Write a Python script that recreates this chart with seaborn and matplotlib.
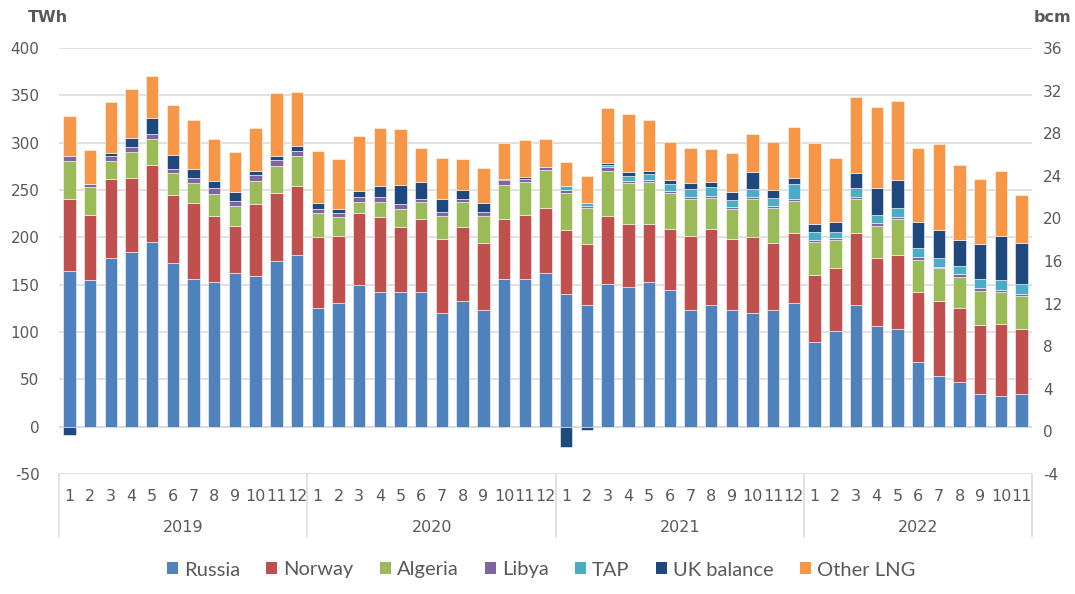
import numpy as np
import pandas as pd
import seaborn as sns
import matplotlib
matplotlib.use("Agg")
import matplotlib.pyplot as plt
from matplotlib.patches import Patch
from matplotlib.transforms import blended_transform_factory

# Monthly supply by source, TWh (Jan 2019 - Nov 2022)
years = ["2019", "2020", "2021", "2022"]
months_per_year = [12, 12, 12, 11]

russia = [164, 155, 178.5, 184.5, 195.5, 172.5, 156.5, 153, 162, 159, 175, 181.5,
          125.5, 130.5, 149.5, 142.5, 142.5, 142.5, 120.5, 132.5, 123, 155.5, 156.5, 162,
          140.5, 128.5, 150.5, 147.5, 152.5, 144.5, 123, 128.5, 123, 120.5, 123, 131,
          89, 101, 129, 106, 103.5, 68.5, 53, 47, 35, 32.5, 34]
norway = [76, 69, 83, 78.5, 80.5, 72, 79.5, 70, 50, 76, 72, 72.5,
          74.5, 71, 76, 78.5, 68.5, 77, 77.5, 78.5, 71, 64, 67.5, 69.5,
          67.5, 64, 72, 66.5, 61.5, 64.5, 78.5, 80.5, 75.5, 79.5, 71, 73.5,
          71, 66.5, 75.5, 72, 78, 73.5, 80, 78, 72.5, 76, 69.5]
algeria = [41, 29, 19, 27.5, 28, 23, 21.5, 23, 21.5, 25, 28.5, 32,
           26, 20.5, 12, 16.5, 19, 18, 25, 26.5, 29, 36, 34, 40,
           38.5, 38, 48, 43, 44.5, 37.5, 38.5, 32.5, 31.5, 40.5, 37, 33.5,
           35, 30, 36, 34, 37.5, 34.5, 34.5, 33.5, 36, 33.5, 35]
libya = [5, 3.5, 5, 4.5, 5.5, 5, 5, 6, 4.5, 5.5, 6, 5,
         4, 3.5, 5, 5, 5, 3.5, 3.5, 3.5, 3.5, 5, 4, 2.5,
         4, 2.5, 3.5, 2, 2, 2, 3, 2.5, 2.5, 2.5, 2.5, 2,
         2.5, 2, 2.5, 3.5, 2.5, 2.5, 1.5, 2.5, 2.5, 2.5, 2]
tap = [0] * 24 + [3.5, 3.5, 2, 5.5, 6.5, 7.5, 8, 9, 7, 8, 8.5, 16.5,
                  8.5, 6.5, 9, 8.5, 10, 10, 9.5, 8.5, 9.5, 10, 10]
uk_balance = [-9, 0, 3.5, 10, 17, 14, 10, 7.5, 10, 5, 4, 5,
              6, 4.5, 6, 11.5, 20.5, 17, 14.5, 8.5, 10, 1.5, 2, 0,
              -22, -3.5, 2, 5, 3.5, 5, 6, 5, 8.5, 17.5, 7.5, 6,
              8.5, 10, 15.5, 28, 29, 27.5, 29, 27.5, 37.5, 47, 43.5]
other_lng = [42, 36, 54, 52, 44, 53, 51.5, 44, 42, 45, 66.5, 57.5,
             55.5, 53, 59, 61.5, 58.5, 36, 43, 33.5, 37, 38, 38.5, 30,
             25.5, 28, 58.5, 61, 53, 39.5, 37.5, 35, 41, 41, 51.5, 54,
             85.5, 68, 81, 85.5, 83, 78, 91.5, 79.5, 68.5, 68.5, 50.5]

series_names = ["Russia", "Norway", "Algeria", "Libya", "TAP", "UK balance", "Other LNG"]
series_values = [russia, norway, algeria, libya, tap, uk_balance, other_lng]
colors = ["#4F81BD", "#C0504D", "#9BBB59", "#8064A2", "#4BACC6", "#1F497D", "#F79646"]

periods = [f"{y}-{m}" for y, n in zip(years, months_per_year) for m in range(1, n + 1)]
month_labels = [str(m) for n in months_per_year for m in range(1, n + 1)]

sns.set_theme(style="white")
plt.rcParams["font.family"] = ["DejaVu Sans"]
plt.rcParams["axes.unicode_minus"] = False
text_color = "#595959"
grid_color = "#D9D9D9"

fig = plt.figure(figsize=(10.75, 5.94), dpi=100)
ax = fig.add_axes([59 / 1075, 1 - 474 / 594, (1032 - 59) / 1075, (474 - 48) / 594])

# Stack positive values upward, negative values downward from zero
pos_base = np.zeros(len(periods))
neg_base = np.zeros(len(periods))
for name, vals, col in zip(series_names, series_values, colors):
    v = np.asarray(vals, dtype=float)
    bottoms = np.where(v >= 0, pos_base, neg_base)
    df = pd.DataFrame({"period": periods, "value": v})
    sns.barplot(data=df, x="period", y="value", order=periods, bottom=bottoms,
                color=col, saturation=1, width=0.6, errorbar=None,
                edgecolor=(1, 1, 1, 0.55), linewidth=0.7, ax=ax, zorder=3)
    pos_base = pos_base + np.where(v >= 0, v, 0)
    neg_base = neg_base + np.where(v < 0, v, 0)

ax.set_xlim(-0.5, len(periods) - 0.5)
ax.set_ylim(-50, 400)
ax.set_yticks(range(-50, 401, 50))
ax.yaxis.grid(True, color=grid_color, linewidth=1.1, zorder=0)
ax.set_axisbelow(True)
ax.axhline(0, color=grid_color, linewidth=1.1, zorder=2)
for s in ax.spines.values():
    s.set_visible(False)
ax.set_xlabel("")
ax.set_ylabel("")
ax.tick_params(axis="y", length=0, pad=14, labelsize=11, labelcolor=text_color)
ax.set_xticks(range(len(periods)))
ax.set_xticklabels(month_labels)
ax.tick_params(axis="x", length=0, pad=11, labelsize=11.5, labelcolor=text_color)

# Secondary axis in bcm
ax2 = ax.twinx()
ax2.set_ylim(-4, 36)
ax2.set_yticks(range(-4, 37, 4))
for s in ax2.spines.values():
    s.set_visible(False)
ax2.tick_params(axis="y", length=0, pad=8, labelsize=11, labelcolor=text_color)
ax2.grid(False)

# Year groups on the category axis
trans = blended_transform_factory(ax.transData, ax.transAxes)
start = 0
sep_bottom = -(537 - 474) / (474 - 48)
for y, n in zip(years, months_per_year):
    ax.plot([start - 0.5, start - 0.5], [0, sep_bottom], transform=trans,
            color=grid_color, linewidth=1.1, clip_on=False)
    ax.text(start + (n - 1) / 2, -(527 - 474) / (474 - 48), y, transform=trans,
            ha="center", va="center", fontsize=11.5, color=text_color)
    start += n
ax.plot([start - 0.5, start - 0.5], [0, sep_bottom], transform=trans,
        color=grid_color, linewidth=1.1, clip_on=False)

# Unit labels
fig.text(28 / 1075, 1 - 18 / 594, "TWh", ha="left", va="center",
         fontsize=11.5, fontweight="bold", color=text_color)
fig.text(1071 / 1075, 1 - 18 / 594, "bcm", ha="right", va="center",
         fontsize=11.5, fontweight="bold", color=text_color)

handles = [Patch(facecolor=c, edgecolor="none") for c in colors]
fig.legend(handles, series_names, loc="center", bbox_to_anchor=(541 / 1075, 1 - 570 / 594),
           ncol=7, frameon=False, handlelength=0.55, handleheight=0.55,
           handletextpad=0.3, columnspacing=1.3,
           prop={"family": ["Lato", "DejaVu Sans"], "size": 14.5},
           labelcolor=text_color)

fig.savefig("out.png", dpi=100)
